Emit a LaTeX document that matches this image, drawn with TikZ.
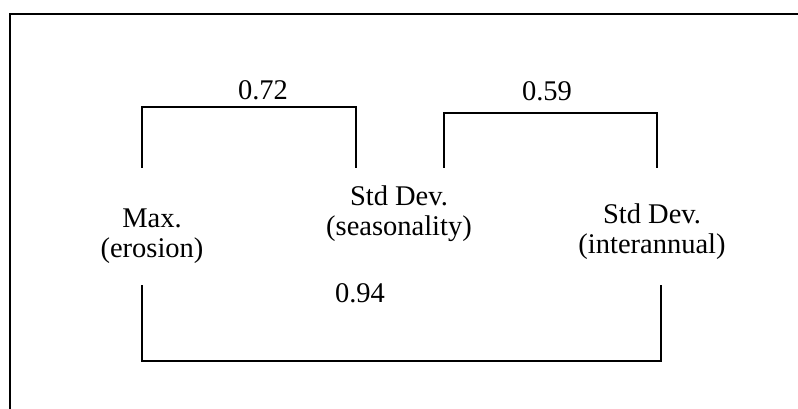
\documentclass[tikz,border=0pt]{standalone}
\usepackage{fontspec}
\setmainfont{Liberation Serif}
\begin{document}
\begin{tikzpicture}[x=1pt,y=-1pt,line width=1.8pt,
  lbl/.style={align=center,font=\fontsize{28.5}{30}\selectfont,inner sep=0pt,anchor=base}]
  \useasboundingbox (0,0) rectangle (798,409);
  % frame, open at right and bottom
  \draw (10,409) -- (10,14) -- (798,14);
  % variables (base = last line)
  \node[lbl] (maxe) at (152,257) {Max.\\(erosion)};
  \node[lbl] (sdseas) at (399,235) {Std Dev.\\(seasonality)};
  \node[lbl] (sdinter) at (652,253) {Std Dev.\\(interannual)};
  % bracket ends
  \coordinate (a1) at (142,168);
  \coordinate (a2) at (356,168);
  \coordinate (b1) at (444,168);
  \coordinate (b2) at (657,168);
  \coordinate (c1) at (142,285);
  \coordinate (c2) at (661,285);
  % correlations
  \draw (a1) -- ++(0,-61) -| (a2);
  \draw (b1) -- ++(0,-55) -| (b2);
  \draw (c1) -- ++(0,76) -| (c2);
  \node[lbl] (r1) at (263,100) {0.72};
  \node[lbl] (r2) at (547,101) {0.59};
  \node[lbl] (r3) at (360,302) {0.94};
\end{tikzpicture}
\end{document}
